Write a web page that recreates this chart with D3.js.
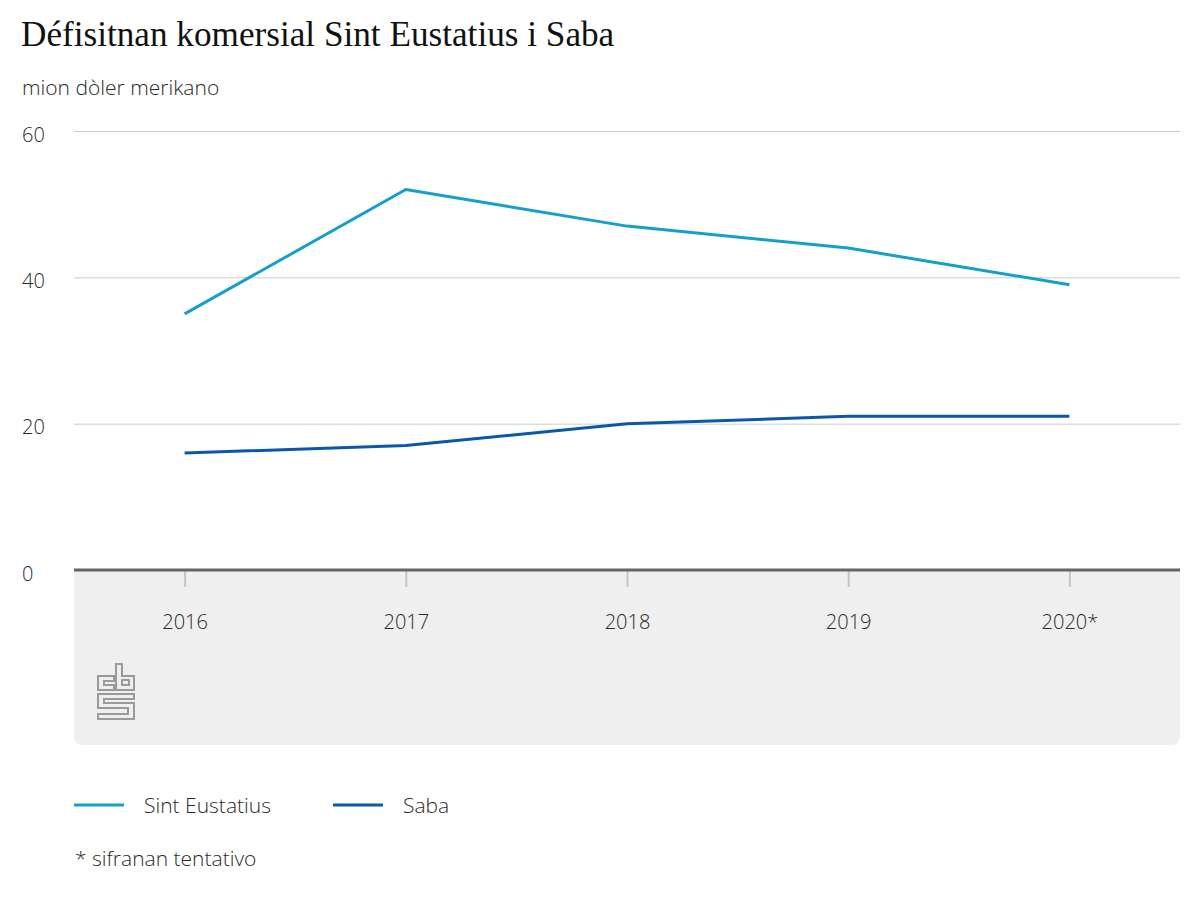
<!DOCTYPE html>
<html>
<head>
<meta charset="utf-8">
<script src="https://cdn.jsdelivr.net/npm/d3@7"></script>
<style>
  html, body { margin: 0; padding: 0; background: #fff; }
  svg { display: block; }
</style>
</head>
<body>
<svg id="chart" width="1200" height="900"></svg>
<script>
const title = "Défisitnan komersial Sint Eustatius i Saba";
const unitLabel = "mion dòler merikano";
const footnote = "* sifranan tentativo";
const years = ["2016", "2017", "2018", "2019", "2020*"];
const sintEustatius = [35, 52, 47, 44, 39];
const saba = [16, 17, 20, 21, 21];
const seriesNames = ["Sint Eustatius", "Saba"];
const seriesColors = ["#159fca", "#0b58a8"];
const yTicks = [0, 20, 40, 60];

(function () {
const sans = "'Open Sans', 'Noto Sans', sans-serif";
const fs = 20, fs2 = 21, fw = 300, tc = "#2a2a2a";
const svg = d3.select("#chart");

const pl = 74, pr = 1180, pt = 131, pb = 570;
const x = d3.scalePoint().domain(years).range([pl, pr]).padding(0.5);
const y = d3.scaleLinear().domain([0, 60]).range([pb, pt]);

// title
svg.append("text").attr("x", 21).attr("y", 46)
  .attr("font-family", "'Liberation Serif', serif").attr("font-size", 35.2)
  .attr("fill", "#111").text(title);
svg.append("text").attr("x", 22).attr("y", 95)
  .attr("font-family", sans).attr("font-size", fs2).attr("font-weight", fw).attr("fill", tc).text(unitLabel);

// grey footer panel
const panelBottom = 745, r = 9;
svg.append("path")
  .attr("d", `M${pl},${pb} H${pr} V${panelBottom - r} Q${pr},${panelBottom} ${pr - r},${panelBottom} H${pl + r} Q${pl},${panelBottom} ${pl},${panelBottom - r} Z`)
  .attr("fill", "#efefef");

// gridlines + y labels
const yAxis = d3.axisLeft(y).tickValues(yTicks).tickSize(-(pr - pl)).tickFormat(d3.format("d"));
const gy = svg.append("g").attr("transform", `translate(${pl},0)`).call(yAxis);
gy.select(".domain").remove();
gy.selectAll(".tick line").attr("stroke", "#cccccc").attr("stroke-width", 1)
  .filter(d => d === 0).remove();
gy.selectAll(".tick text").attr("x", -52).attr("dy", "0.5em").attr("text-anchor", "start")
  .attr("font-family", sans).attr("font-size", fs).attr("font-weight", fw).attr("fill", tc);

// x axis
const xAxis = d3.axisBottom(x).tickSize(17).tickPadding(28);
const gx = svg.append("g").attr("transform", `translate(0,${pb})`).call(xAxis);
gx.select(".domain").remove();
gx.selectAll(".tick line").attr("stroke", "#c4c4c4").attr("stroke-width", 2);
gx.selectAll(".tick text").attr("font-family", sans).attr("font-size", fs).attr("font-weight", fw).attr("fill", tc);

// baseline
svg.append("line").attr("x1", pl).attr("x2", pr).attr("y1", y(0)).attr("y2", y(0))
  .attr("stroke", "#666").attr("stroke-width", 3);

// lines
const line = d3.line().x((d, i) => x(years[i])).y(d => y(d));
[sintEustatius, saba].forEach((vals, k) => {
  svg.append("path").datum(vals).attr("d", line)
    .attr("fill", "none").attr("stroke", seriesColors[k]).attr("stroke-width", 3)
    .attr("stroke-linejoin", "round");
});

// cbs logo
const logo = svg.append("g").attr("fill", "none").attr("stroke", "#9a9a9a").attr("stroke-width", 2);
logo.append("path").attr("d", "M98,676 H114 V681 H104 V685 H114 V690 H98 Z");
logo.append("path").attr("d", "M116,664 H122 V676 H134 V690 H116 Z");
logo.append("rect").attr("x", 122).attr("y", 680).attr("width", 7).attr("height", 5);
logo.append("path").attr("d", "M98,694 H134 V699 H104 V703 H134 V719 H98 V714 H128 V708 H98 Z");

// legend
const legX = [74, 333];
seriesNames.forEach((name, k) => {
  svg.append("line").attr("x1", legX[k]).attr("x2", legX[k] + 50).attr("y1", 805).attr("y2", 805)
    .attr("stroke", seriesColors[k]).attr("stroke-width", 3);
  svg.append("text").attr("x", legX[k] + 70).attr("y", 813)
    .attr("font-family", sans).attr("font-size", fs2).attr("font-weight", fw).attr("fill", tc).text(name);
});
svg.append("text").attr("x", 75).attr("y", 866)
  .attr("font-family", sans).attr("font-size", fs2).attr("font-weight", fw).attr("fill", tc).text(footnote);
})();
</script>
</body>
</html>
